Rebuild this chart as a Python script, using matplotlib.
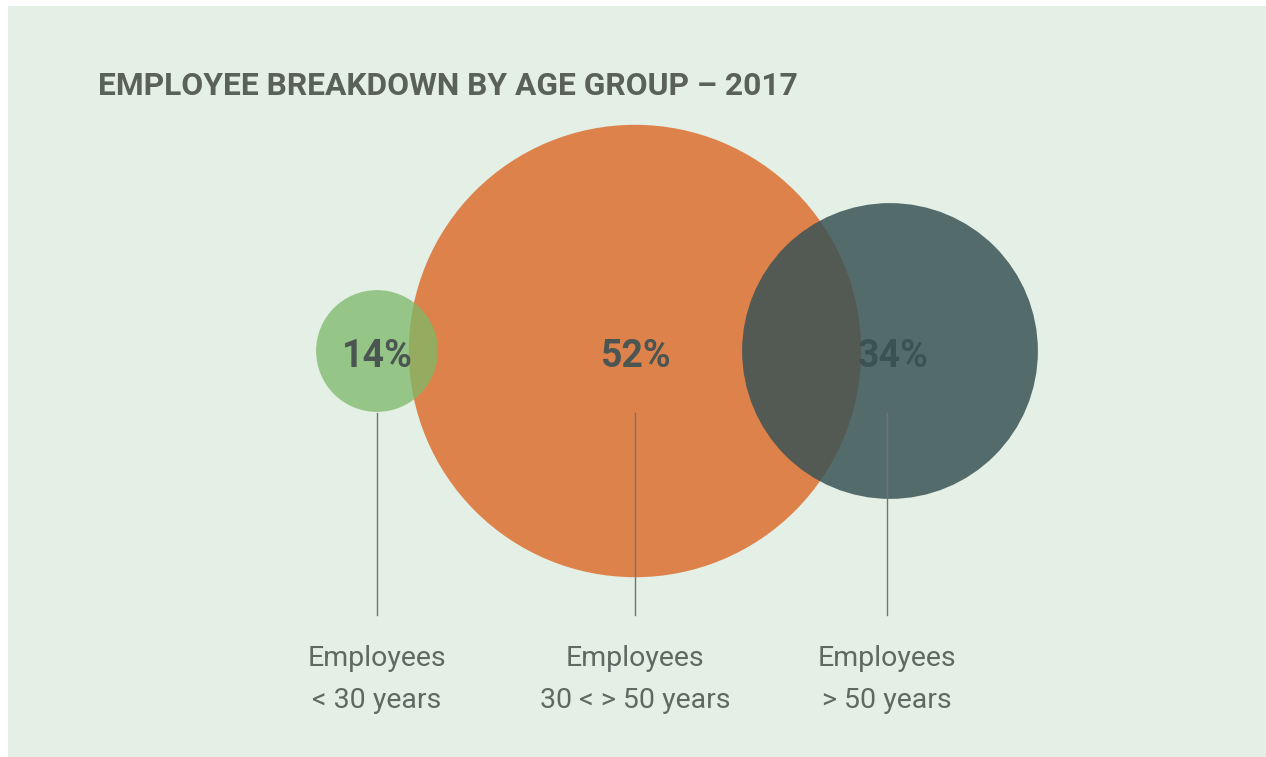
import matplotlib
matplotlib.use("Agg")
import matplotlib.pyplot as plt
from matplotlib.patches import Circle, Rectangle

# data
title = "EMPLOYEE BREAKDOWN BY AGE GROUP \u2013 2017"
shares = [14, 52, 34]
pct_labels = ["14%", "52%", "34%"]
group_labels = [["Employees", "< 30 years"],
                ["Employees", "30 < > 50 years"],
                ["Employees", "> 50 years"]]

# layout / style
W, H = 1266, 757
centers_x = [377, 635, 890]
line_x = [377, 635, 887]
center_y = 351
px_per_pct = 4.35
colors = ["#7cb968", "#de824b", "#395255"]
alphas = [0.75, 1.0, 0.84]
zorders = [3, 2, 5]
bg = "#e4efe5"
text_dark = "#4b5652"
label_col = "#606863"
font = ["Roboto", "DejaVu Sans"]

fig = plt.figure(figsize=(W / 100, H / 100), dpi=100, facecolor="white")
ax = fig.add_axes([0, 0, 1, 1])
ax.set_xlim(0, W)
ax.set_ylim(H, 0)
ax.axis("off")

ax.add_patch(Rectangle((8, 6), W - 8, H - 6, facecolor=bg, edgecolor="none", zorder=0))

ax.text(98, 95, title, fontsize=22.9, fontweight="bold", family=font,
        color="#5a615b", ha="left", va="baseline")

for i, v in enumerate(shares):
    r = v * px_per_pct
    ax.add_patch(Circle((centers_x[i], center_y), r, facecolor=colors[i],
                        edgecolor="none", alpha=alphas[i], zorder=zorders[i]))

# percent labels (the last one sits under the dark circle)
pct_z = [6, 6, 4]
pct_dx = [0, 0, 3]
for i, lab in enumerate(pct_labels):
    ax.text(centers_x[i] + pct_dx[i], 367, lab,
            fontsize=27, fontweight="bold", family=font, color=text_dark,
            ha="center", va="baseline", zorder=pct_z[i])

for i, lab in enumerate(group_labels):
    ax.plot([line_x[i], line_x[i]], [413, 615], color="#6f7670", lw=1, zorder=7)
    ax.text(line_x[i], 666, lab[0], fontsize=20.5, fontweight="normal", family=font,
            color=label_col, ha="center", va="baseline", zorder=7)
    ax.text(line_x[i], 708, lab[1], fontsize=20.5, fontweight="normal", family=font,
            color=label_col, ha="center", va="baseline", zorder=7)

fig.savefig("out.png", dpi=100, facecolor="white")
